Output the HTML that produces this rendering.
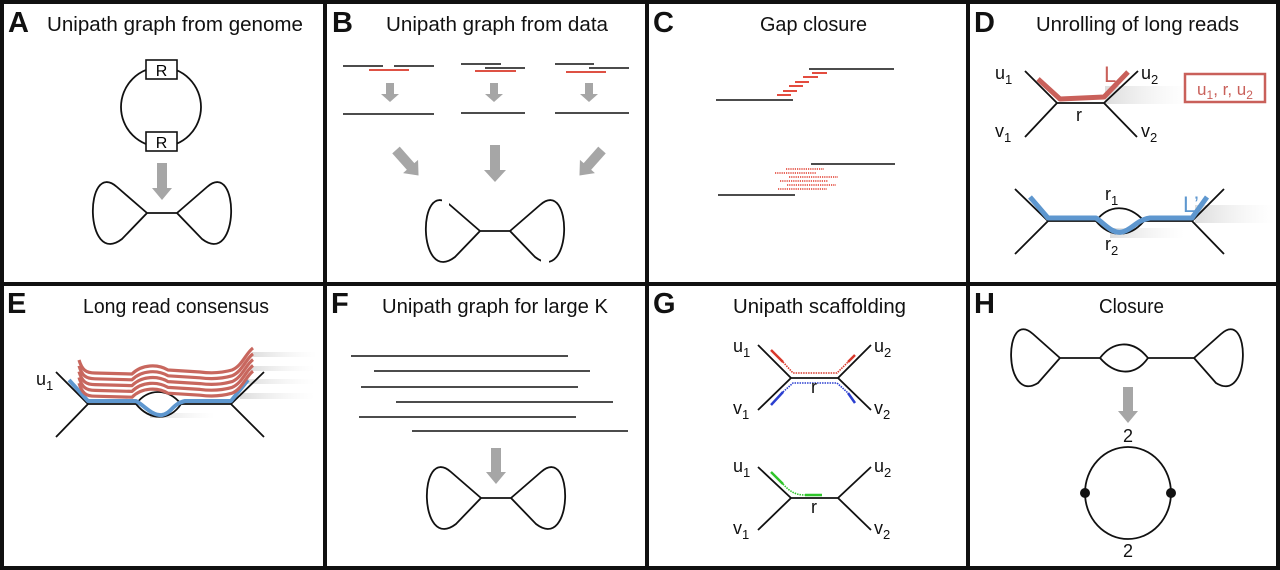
<!DOCTYPE html>
<html><head><meta charset="utf-8"><style>html,body{margin:0;padding:0;background:#fff}svg{display:block}text{font-family:"Liberation Sans",sans-serif}</style></head><body>
<svg width="1280" height="570" viewBox="0 0 1280 570" xmlns="http://www.w3.org/2000/svg">
<defs>
<linearGradient id="sh" x1="0" x2="1" y1="0" y2="0"><stop offset="0" stop-color="#aaa" stop-opacity="0.4"/><stop offset="1" stop-color="#ddd" stop-opacity="0"/></linearGradient>
</defs>
<rect width="1280" height="570" fill="#fff"/>
<g fill="#111">
<rect x="0" y="0" width="1280" height="4"/><rect x="0" y="566" width="1280" height="4"/>
<rect x="0" y="0" width="4" height="570"/><rect x="1276" y="0" width="4" height="570"/>
<rect x="323" y="0" width="4" height="570"/><rect x="645" y="0" width="4" height="570"/><rect x="966" y="0" width="4" height="570"/>
<rect x="0" y="282" width="1280" height="4"/>
</g>
<g font-weight="bold" font-size="29" fill="#111">
<text x="8" y="32">A</text><text x="332" y="32">B</text><text x="653" y="32">C</text><text x="974" y="32">D</text>
<text x="7" y="313">E</text><text x="331" y="313">F</text><text x="653" y="313">G</text><text x="974" y="313">H</text>
</g>
<g font-size="20" fill="#111">
<text x="47" y="31" textLength="256" lengthAdjust="spacingAndGlyphs">Unipath graph from genome</text>
<text x="386" y="31" textLength="222" lengthAdjust="spacingAndGlyphs">Unipath graph from data</text>
<text x="760" y="31" textLength="107" lengthAdjust="spacingAndGlyphs">Gap closure</text>
<text x="1036" y="31" textLength="203" lengthAdjust="spacingAndGlyphs">Unrolling of long reads</text>
<text x="83" y="313" textLength="186" lengthAdjust="spacingAndGlyphs">Long read consensus</text>
<text x="382" y="313" textLength="226" lengthAdjust="spacingAndGlyphs">Unipath graph for large K</text>
<text x="733" y="313" textLength="173" lengthAdjust="spacingAndGlyphs">Unipath scaffolding</text>
<text x="1099" y="313" textLength="65" lengthAdjust="spacingAndGlyphs">Closure</text>
</g>
<g fill="none" stroke="#111" stroke-width="1.8">
<circle cx="161" cy="107" r="40"/>
<path d="M147,213 L117,187 C84,158 84,268 122,239 Z M177,213 L207,187 C240,158 240,268 202,239 Z M147,213 H177"/>
<path d="M481,498 L451,472 C418,443 418,553 456,524 Z M511,498 L541,472 C574,443 574,553 536,524 Z M481,498 H511"/>
<path d="M480,231 L450,205 C417,176 417,286 455,257 Z M510,231 L540,205 C573,176 573,286 535,257 Z M480,231 H510"/>
</g>
<rect x="146" y="60" width="31" height="19" fill="#fff" stroke="#111" stroke-width="1.6"/>
<rect x="146" y="132" width="31" height="19" fill="#fff" stroke="#111" stroke-width="1.6"/>
<text x="161.5" y="76" font-size="16" text-anchor="middle">R</text>
<text x="161.5" y="148" font-size="16" text-anchor="middle">R</text>
<rect x="442" y="198" width="7" height="10" fill="#fff"/>
<rect x="541" y="253" width="8" height="10" fill="#fff"/>
<g fill="#a6a6a6">
<polygon points="157,163 167,163 167,188 172,188 162,200 152,188 157,188"/>
<polygon points="491,448 501,448 501,472 506,472 496,484 486,472 491,472"/>
<polygon points="1123,387 1133,387 1133,411 1138,411 1128,423 1118,411 1123,411"/>
<polygon points="490,145 500,145 500,170 506,170 495,182 484,170 490,170"/>
<polygon points="386,83 394,83 394,94 399,94 390,102 381,94 386,94"/>
<polygon points="490,83 498,83 498,94 503,94 494,102 485,94 490,94"/>
<polygon points="585,83 593,83 593,94 598,94 589,102 580,94 585,94"/>
<polygon points="-5,0 5,0 5,22 10,22 0,34 -10,22 -5,22" transform="translate(396,150) rotate(-41.5)"/>
<polygon points="-5,0 5,0 5,22 10,22 0,34 -10,22 -5,22" transform="translate(602,150) rotate(41.5)"/>
</g>
<g stroke-width="1.6" stroke="#111">
<line x1="343" y1="66" x2="383" y2="66"/><line x1="394" y1="66" x2="434" y2="66"/><line x1="343" y1="114" x2="434" y2="114"/>
<line x1="461" y1="64" x2="501" y2="64"/><line x1="485" y1="68" x2="525" y2="68"/><line x1="461" y1="113" x2="525" y2="113"/>
<line x1="555" y1="64" x2="594" y2="64"/><line x1="589" y1="68" x2="629" y2="68"/><line x1="555" y1="113" x2="629" y2="113"/>
</g>
<g stroke-width="1.8" stroke="#d9382a">
<line x1="369" y1="70" x2="409" y2="70"/><line x1="475" y1="71" x2="516" y2="71"/><line x1="566" y1="72" x2="606" y2="72"/>
</g>
<g stroke="#111" stroke-width="1.6">
<line x1="716" y1="100" x2="793" y2="100"/><line x1="809" y1="69" x2="894" y2="69"/>
<line x1="718" y1="195" x2="795" y2="195"/><line x1="811" y1="164" x2="895" y2="164"/>
</g>
<g stroke="#e0382a" stroke-width="1.8">
<line x1="777" y1="95" x2="791" y2="95"/><line x1="783" y1="91" x2="797" y2="91"/><line x1="789" y1="86" x2="803" y2="86"/>
<line x1="795" y1="82" x2="809" y2="82"/><line x1="803" y1="77" x2="818" y2="77"/><line x1="812" y1="73" x2="827" y2="73"/>
</g>
<g stroke="#e0382a" stroke-width="1.5" stroke-dasharray="1.2,1">
<line x1="786" y1="169" x2="824" y2="169"/><line x1="775" y1="173" x2="816" y2="173"/><line x1="789" y1="177" x2="838" y2="177"/>
<line x1="780" y1="181" x2="828" y2="181"/><line x1="787" y1="185" x2="836" y2="185"/><line x1="778" y1="189" x2="827" y2="189"/>
</g>
<rect x="1105" y="86" width="85" height="18" fill="url(#sh)"/>
<g stroke="#111" stroke-width="1.8" fill="none">
<path d="M1025,71 L1057,103 L1025,137 M1057,103 H1104 M1138,71 L1104,103 L1137,137"/>
</g>
<path d="M1038,79 L1060,99 L1104,97 L1128,72" fill="none" stroke="#c9605a" stroke-width="5" stroke-linejoin="round"/>
<text x="1104" y="82" font-size="22" fill="#c9605a">L</text>
<rect x="1185" y="74" width="80" height="28" fill="none" stroke="#c9605a" stroke-width="2.5"/>
<text x="1225" y="95" font-size="17" fill="#c9605a" text-anchor="middle">u<tspan font-size="12" dy="4">1</tspan><tspan dy="-4">, r, u</tspan><tspan font-size="12" dy="4">2</tspan></text>
<g font-size="18" fill="#111">
<text x="995" y="79">u<tspan font-size="13" dy="5">1</tspan></text>
<text x="995" y="137">v<tspan font-size="13" dy="5">1</tspan></text>
<text x="1141" y="79">u<tspan font-size="13" dy="5">2</tspan></text>
<text x="1141" y="137">v<tspan font-size="13" dy="5">2</tspan></text>
<text x="1076" y="121">r</text>
</g>
<rect x="1195" y="205" width="80" height="18" fill="url(#sh)"/>
<rect x="1110" y="228" width="75" height="10" fill="url(#sh)"/>
<g stroke="#111" stroke-width="1.8" fill="none">
<path d="M1015,189 L1048,221 L1015,254 M1048,221 H1096 M1144,221 H1192 M1224,189 L1192,221 L1224,254 M1096,221 C1108,205 1128,203 1144,221 M1096,221 C1110,238 1130,238 1144,221"/>
</g>
<path d="M1030,197 L1048,218 L1096,218 C1105,224 1112,234 1122,232 C1132,230 1136,220 1150,218 L1192,218 L1207,197" fill="none" stroke="#5e97cf" stroke-width="5" stroke-linejoin="round"/>
<text x="1183" y="212" font-size="22" fill="#5e97cf">L’</text>
<g font-size="18" fill="#111">
<text x="1105" y="200">r<tspan font-size="13" dy="5">1</tspan></text>
<text x="1105" y="250">r<tspan font-size="13" dy="5">2</tspan></text>
</g>
<g>
<rect x="252" y="352" width="65" height="5" fill="url(#sh)"/>
<rect x="250" y="366" width="65" height="5" fill="url(#sh)"/>
<rect x="245" y="379" width="70" height="5" fill="url(#sh)"/>
<rect x="240" y="393" width="75" height="6" fill="url(#sh)"/>
<rect x="150" y="413" width="65" height="5" fill="url(#sh)"/>
</g>
<g stroke="#111" stroke-width="1.8" fill="none">
<path d="M56,372 L88,404 L56,437 M88,404 H136 M181,404 H231 M264,372 L231,404 L264,437 M136,404 C148,388 168,388 181,404 M136,404 C150,421 170,421 181,404"/>
</g>
<path d="M69,380 L88,401 L136,401 C145,406 152,416 162,415 C172,413 172,404 185,401 L231,401 L248,380" fill="none" stroke="#5e97cf" stroke-width="4" stroke-linejoin="round"/>
<g fill="none" stroke="#c8675e" stroke-width="3.2" stroke-linejoin="round">
<path id="rs" d="M79,360 C82,370 86,373 95,373 L132,374 C142,364 158,364 168,370 L200,372 C215,374 225,372 232,370 C242,366 246,353 253,348"/>
<use href="#rs" transform="translate(0,5.8)"/>
<use href="#rs" transform="translate(0,11.6)"/>
<use href="#rs" transform="translate(0,17.4)"/>
<use href="#rs" transform="translate(0,23.2)"/>
</g>
<text x="36" y="385" font-size="18" fill="#111">u<tspan font-size="13" dy="5">1</tspan></text>
<g stroke="#111" stroke-width="1.6">
<line x1="351" y1="356" x2="568" y2="356"/><line x1="374" y1="371" x2="590" y2="371"/>
<line x1="361" y1="387" x2="578" y2="387"/><line x1="396" y1="402" x2="613" y2="402"/>
<line x1="359" y1="417" x2="576" y2="417"/><line x1="412" y1="431" x2="628" y2="431"/>
</g>
<g stroke="#111" stroke-width="1.8" fill="none">
<path d="M758,345 L791,378 L758,410 M791,378 H838 M871,345 L838,378 L871,410"/>
<path d="M758,467 L791,498 L758,530 M791,498 H838 M871,467 L838,498 L871,530"/>
</g>
<g fill="none" stroke-width="2.5">
<path d="M771,350 L783,362 M848,362 L855,355" stroke="#d9382a"/>
<path d="M783,362 L793,373 L837,373 L848,362" stroke="#d9382a" stroke-width="1.6" stroke-dasharray="1.5,1"/>
<path d="M771,405 L783,392 M848,393 L855,403" stroke="#2b3fd0"/>
<path d="M783,392 L793,383 L837,383 L848,393" stroke="#2b3fd0" stroke-width="1.6" stroke-dasharray="1.5,1"/>
<path d="M771,472 L783,484" stroke="#2fc52a"/>
<path d="M783,484 C790,492 796,495 805,495" stroke="#2fc52a" stroke-width="1.6" stroke-dasharray="1.5,1"/>
<path d="M805,495 L822,495" stroke="#2fc52a"/>
</g>
<g font-size="18" fill="#111">
<text x="733" y="352">u<tspan font-size="13" dy="5">1</tspan></text>
<text x="733" y="414">v<tspan font-size="13" dy="5">1</tspan></text>
<text x="874" y="352">u<tspan font-size="13" dy="5">2</tspan></text>
<text x="874" y="414">v<tspan font-size="13" dy="5">2</tspan></text>
<text x="811" y="393">r</text>
<text x="733" y="472">u<tspan font-size="13" dy="5">1</tspan></text>
<text x="733" y="534">v<tspan font-size="13" dy="5">1</tspan></text>
<text x="874" y="472">u<tspan font-size="13" dy="5">2</tspan></text>
<text x="874" y="534">v<tspan font-size="13" dy="5">2</tspan></text>
<text x="811" y="513">r</text>
</g>
<g stroke="#111" stroke-width="1.8" fill="none">
<path d="M1060,358 L1033,334 C1003,307 1003,405 1038,383 Z M1060,358 H1100 M1148,358 H1194 M1100,358 C1112,342 1132,338 1148,358 M1100,358 C1114,374 1134,378 1148,358 M1194,358 L1221,334 C1251,307 1251,405 1216,383 Z"/>
<ellipse cx="1128" cy="493" rx="43" ry="46"/>
</g>
<circle cx="1085" cy="493" r="5" fill="#111"/><circle cx="1171" cy="493" r="5" fill="#111"/>
<text x="1128" y="442" font-size="18" text-anchor="middle" fill="#111">2</text>
<text x="1128" y="557" font-size="18" text-anchor="middle" fill="#111">2</text>
</svg>
</body></html>
